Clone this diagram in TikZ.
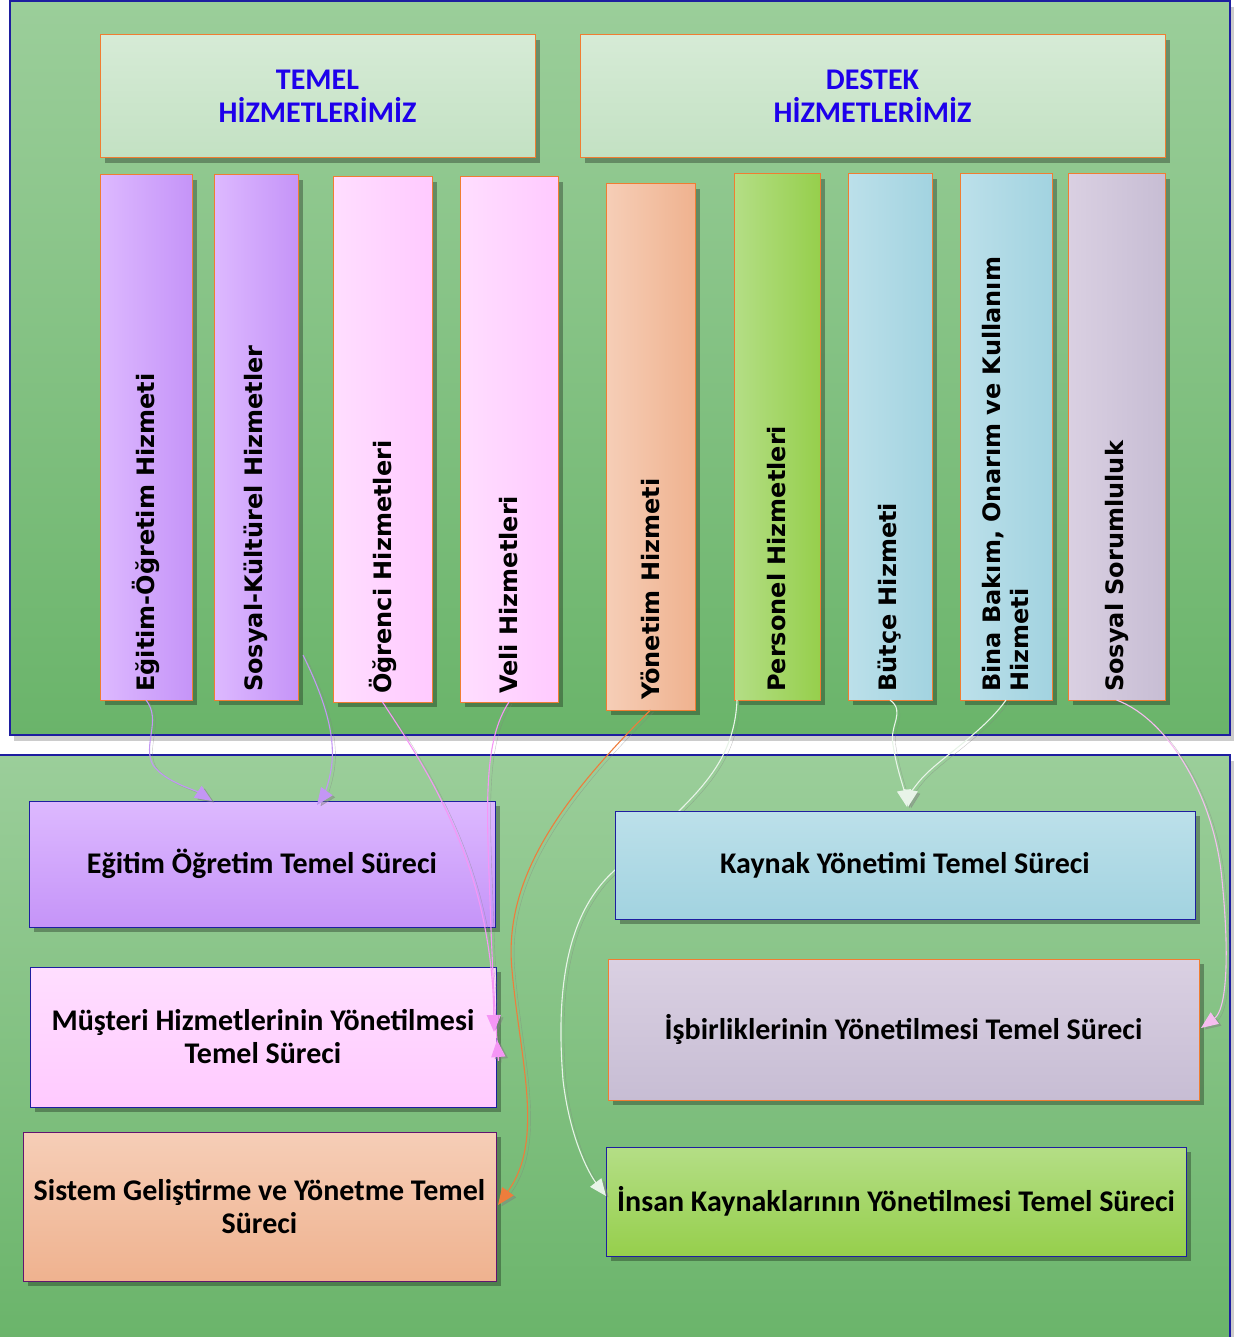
\documentclass[tikz,border=0pt]{standalone}
\usepackage{fontspec}
\setmainfont{Carlito}
\newfontfamily\colfont{DejaVu Sans}
\usetikzlibrary{calc,arrows.meta,shadows}
\definecolor{navy}{RGB}{30,30,160}
\definecolor{orb}{RGB}{240,125,50}
\definecolor{hdtext}{RGB}{30,0,235}
\definecolor{pnlA}{RGB}{155,206,154}
\definecolor{pnlB}{RGB}{106,180,106}
\definecolor{hdA}{RGB}{214,235,214}
\definecolor{hdB}{RGB}{195,225,195}
\definecolor{purA}{RGB}{221,185,255}
\definecolor{purB}{RGB}{197,148,248}
\definecolor{pinA}{RGB}{255,222,255}
\definecolor{pinB}{RGB}{255,202,255}
\definecolor{peaA}{RGB}{246,206,183}
\definecolor{peaB}{RGB}{239,178,143}
\definecolor{grnA}{RGB}{180,222,134}
\definecolor{grnB}{RGB}{150,207,76}
\definecolor{bluA}{RGB}{188,224,234}
\definecolor{bluB}{RGB}{162,211,224}
\definecolor{lavA}{RGB}{218,208,226}
\definecolor{lavB}{RGB}{199,189,212}
\definecolor{cpur}{RGB}{195,150,245}
\definecolor{cpin}{RGB}{245,150,245}
\definecolor{cora}{RGB}{238,125,60}
\definecolor{cwht}{RGB}{232,244,232}
\definecolor{cpk2}{RGB}{245,190,240}
\tikzset{
  shd/.style={drop shadow={shadow xshift=5pt,shadow yshift=-5pt,fill=black,opacity=.3}},
  box/.style={line width=1pt,inner sep=0pt,outer sep=0pt,anchor=north west,shd},
  hdr/.style={box,draw=orb,top color=hdA,bottom color=hdB,align=center,
    text=hdtext,font=\bfseries\fontsize{30}{33}\selectfont},
  colbox/.style={box,draw=orb,left color=#1A,right color=#1B},
  coltext/.style={rotate=90,anchor=west,inner sep=0pt,align=left,
    font=\colfont\bfseries\fontsize{24}{28}\selectfont},
  proc/.style={box,draw=navy,top color=#1A,bottom color=#1B,align=center,
    font=\bfseries\fontsize{30}{33}\selectfont},
  conn/.style={draw=#1,line width=1.1pt,-{Triangle[length=17pt,width=14pt]},
    preaction={draw=black!50,opacity=.45,transform canvas={shift={(3pt,-2pt)}}}}
}
\begin{document}
\begin{tikzpicture}[x=1pt,y=-1pt]
\useasboundingbox (0,0) rectangle (1235,1337);
% panels
\path[top color=pnlA,bottom color=pnlB,draw=navy,line width=1.5pt,
  drop shadow={shadow xshift=4pt,shadow yshift=-6pt,fill=black,opacity=.2}]
  (10,1) rectangle (1230,735);
\path[top color=pnlA,bottom color=pnlB,draw=navy,line width=1.5pt,
  drop shadow={shadow xshift=4pt,shadow yshift=-6pt,fill=black,opacity=.2}]
  (-3,755) rectangle (1230,1345);
% headers
\node[hdr,minimum width=435pt,minimum height=123pt] (h1) at (100,35) {TEMEL\\HİZMETLERİMİZ};
\node[hdr,minimum width=585pt,minimum height=123pt] (h2) at (580,35) {DESTEK\\HİZMETLERİMİZ};
% columns
\node[colbox=pur,minimum width=92pt,minimum height=525pt] (c1) at (100,175) {};
\node[colbox=pur,minimum width=84pt,minimum height=525pt] (c2) at (214,175) {};
\node[colbox=pin,minimum width=99pt,minimum height=525pt] (c3) at (333,177) {};
\node[colbox=pin,minimum width=98pt,minimum height=525pt] (c4) at (460,177) {};
\node[colbox=pea,minimum width=89pt,minimum height=526pt] (c5) at (606,184) {};
\node[colbox=grn,minimum width=86pt,minimum height=526pt] (c6) at (734,174) {};
\node[colbox=blu,minimum width=84pt,minimum height=526pt] (c7) at (848,174) {};
\node[colbox=blu,minimum width=92pt,minimum height=526pt] (c8) at (960,174) {};
\node[colbox=lav,minimum width=97pt,minimum height=526pt] (c9) at (1068,174) {};
\node[coltext] (t1) at ($(c1.south)+(0,-8)$) {Eğitim-Öğretim Hizmeti};
\node[coltext] (t2) at ($(c2.south)+(0,-8)$) {Sosyal-Kültürel Hizmetler};
\node[coltext] (t3) at ($(c3.south)+(0,-8)$) {Öğrenci Hizmetleri};
\node[coltext] (t4) at ($(c4.south)+(0,-8)$) {Veli Hizmetleri};
\node[coltext] (t5) at ($(c5.south)+(0,-10)$) {Yönetim Hizmeti};
\node[coltext] (t6) at ($(c6.south)+(0,-8)$) {Personel Hizmetleri};
\node[coltext] (t7) at ($(c7.south)+(0,-8)$) {Bütçe Hizmeti};
\node[coltext] (t8) at ($(c8.south)+(0,-8)$) {Bina Bakım, Onarım ve Kullanım\\Hizmeti};
\node[coltext] (t9) at ($(c9.south)+(0,-8)$) {Sosyal Sorumluluk};
% process boxes (left)
\node[proc=pur,minimum width=466pt,minimum height=126pt] (b1) at (29,801) {Eğitim Öğretim Temel Süreci};
\node[proc=pin,minimum width=466pt,minimum height=140pt] (b2) at (30,967) {Müşteri Hizmetlerinin Yönetilmesi\\Temel Süreci};
\node[proc=pea,draw=navy!70!red,minimum width=473pt,minimum height=149pt] (b3) at (23,1132) {Sistem Geliştirme ve Yönetme Temel\\Süreci};
\node[proc=grn,minimum width=580pt,minimum height=109pt] (b6) at (606,1147) {İnsan Kaynaklarının Yönetilmesi Temel Süreci};
% personel connector passes behind Kaynak box
\draw[conn=cwht] ($(c6.south west)+(3,0)$) .. controls (735,750) and (710,780) .. (680,810)
  .. controls (660,830) and (635,852) .. (615,870)
  .. controls (570,910) and (555,980) .. (563,1080)
  .. controls (570,1140) and (590,1175) .. ($(b6.north west)+(0,49)$);
% process boxes (right)
\node[proc=blu,minimum width=580pt,minimum height=108pt] (b4) at (615,811) {Kaynak Yönetimi Temel Süreci};
\node[proc=lav,draw=orb,minimum width=591pt,minimum height=141pt] (b5) at (608,959) {İşbirliklerinin Yönetilmesi Temel Süreci};
% connectors
\draw[conn=cpur] (c1.south) .. controls (162,720) and (142,745) .. (153,765)
  .. controls (165,782) and (195,790) .. ($(b1.north west)+(183,0)$);
\draw[conn=cpur] ($(c2.south east)+(5,-45)$) .. controls (325,700) and (338,740) .. (330,775)
  .. controls (327,790) and (322,798) .. ($(b1.north west)+(288,4)$);
\draw[conn=cpin] (c3.south) .. controls (420,760) and (492,860) .. ($(b2.north east)+(-2,65)$);
\draw[conn=cpin] (c4.south) .. controls (484,740) and (486,800) .. (490,900)
  .. controls (493,1000) and (500,1080) .. ($(b2.north east)+(1,73)$);
\draw[conn=cora] (c5.south) .. controls (560,800) and (503,880) .. (512,970)
  .. controls (520,1060) and (545,1140) .. ($(b3.north east)+(2,73)$);
\draw[conn=cwht] (c7.south) .. controls (906,712) and (889,725) .. (893,745)
  .. controls (897,770) and (903,785) .. ($(b4.north west)+(292,-4)$);
\draw[conn=cwht] (c8.south) .. controls (985,730) and (945,755) .. (925,775)
  .. controls (915,785) and (910,795) .. ($(b4.north west)+(293,-4)$);
\draw[conn=cpk2] (c9.south) .. controls (1170,720) and (1215,800) .. (1222,880)
  .. controls (1230,960) and (1226,1010) .. ($(b5.north east)+(2,69)$);
\end{tikzpicture}
\end{document}
